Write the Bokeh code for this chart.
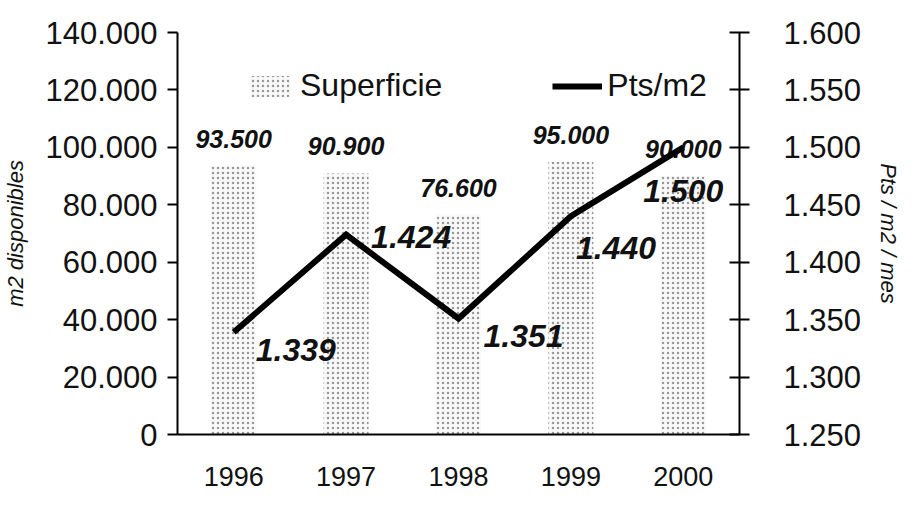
from bokeh.plotting import figure
from bokeh.models import (Range1d, LinearAxis, FixedTicker, CustomJSTickFormatter,
                          ColumnDataSource, Legend, LegendItem, FactorRange)
from bokeh.core.properties import value
from bokeh.embed import file_html
from bokeh.resources import INLINE

# ---- data ----
years = ["1996", "1997", "1998", "1999", "2000"]
superficie = [93500, 90900, 76600, 95000, 90000]      # m2 disponibles
pts_m2 = [1339, 1424, 1351, 1440, 1500]                # Pts / m2 / mes
left_ticks = [0, 20000, 40000, 60000, 80000, 100000, 120000, 140000]
right_ticks = [1250, 1300, 1350, 1400, 1450, 1500, 1550, 1600]

def fmt(v):
    return f"{v:,}".replace(",", ".")

# label placement (style only)
line_label_dx = [22, 25, 25, 5, -40]
line_label_dy = [18, 2, 18, 32, 44]

src = ColumnDataSource(dict(
    year=years, sup=superficie, pts=pts_m2,
    sup_lbl=[fmt(v) for v in superficie],
    pts_lbl=[fmt(v) for v in pts_m2],
    dx=line_label_dx, dy=line_label_dy,
))

FONT = "Liberation Sans"

p = figure(x_range=FactorRange(*years), y_range=Range1d(0, 140000),
           width=904, height=495, output_backend="svg", toolbar_location=None,
           min_border_left=175, min_border_right=150, min_border_top=32,
           min_border_bottom=61)
p.outline_line_color = None
p.grid.grid_line_color = None
p.background_fill_color = "white"

p.extra_y_ranges = {"pts": Range1d(1250, 1600)}

thousands = CustomJSTickFormatter(code="""
    return Math.round(tick).toString().replace(/\\B(?=(\\d{3})+(?!\\d))/g, '.');
""")

# bars
bars = p.vbar(x="year", top="sup", width=0.4, source=src,
              fill_color="#f9f9f9", line_color=None,
              hatch_pattern="dot", hatch_color="#999999", hatch_scale=5, hatch_weight=1)

p.text(x="year", y="sup", text="sup_lbl", source=src, y_offset=-18,
       text_align="center", text_baseline="bottom",
       text_font=value(FONT), text_font_size="25px", text_font_style="bold italic",
       text_color="#111111")

# line
ln = p.line(x="year", y="pts", source=src, y_range_name="pts",
            line_color="black", line_width=6, line_join="miter")

p.text(x="year", y="pts", text="pts_lbl", source=src, y_range_name="pts",
       x_offset="dx", y_offset="dy",
       text_align="left", text_baseline="middle",
       text_font=value(FONT), text_font_size="32px", text_font_style="bold italic",
       text_color="#111111")

# axes
ya = p.yaxis[0]
ya.ticker = FixedTicker(ticks=left_ticks)
ya.formatter = thousands
ya.axis_label = "m2 disponibles"
ya.axis_label_text_font = FONT
ya.axis_label_text_font_size = "22px"
ya.axis_label_text_font_style = "italic"
ya.axis_label_text_color = "#111111"
ya.axis_label_standoff = 14
ya.major_label_text_font = FONT
ya.major_label_text_font_size = "31px"
ya.major_label_text_color = "#111111"
ya.major_label_standoff = 10
ya.major_tick_in = 0
ya.major_tick_out = 10
ya.minor_tick_line_color = None
ya.axis_line_width = 2
ya.major_tick_line_width = 2

ra = LinearAxis(y_range_name="pts", ticker=FixedTicker(ticks=right_ticks),
                formatter=thousands)
ra.axis_label = "Pts / m2 / mes"
ra.axis_label_text_font = FONT
ra.axis_label_text_font_size = "22px"
ra.axis_label_text_font_style = "italic"
ra.axis_label_text_color = "#111111"
ra.axis_label_standoff = 12
ra.major_label_text_font = FONT
ra.major_label_text_font_size = "31px"
ra.major_label_text_color = "#111111"
ra.major_label_standoff = 34
ra.major_tick_in = 10
ra.major_tick_out = 10
ra.minor_tick_line_color = None
ra.axis_line_width = 2
ra.major_tick_line_width = 2
p.add_layout(ra, "right")

xa = p.xaxis[0]
xa.major_label_text_font = FONT
xa.major_label_text_font_size = "27px"
xa.major_label_text_color = "#111111"
xa.major_label_standoff = 26
xa.major_tick_line_color = None
xa.axis_line_width = 2

legend = Legend(items=[LegendItem(label="Superficie", renderers=[bars]),
                       LegendItem(label="Pts/m2", renderers=[ln])],
                orientation="horizontal", location=(68, 330),
                label_text_font=FONT, label_text_font_size="32px",
                label_text_color="#111111",
                glyph_width=50, glyph_height=26, label_standoff=5,
                spacing=110, border_line_color=None,
                background_fill_alpha=0)
p.add_layout(legend, "center")

open("out.html", "w").write(file_html(p, INLINE))
